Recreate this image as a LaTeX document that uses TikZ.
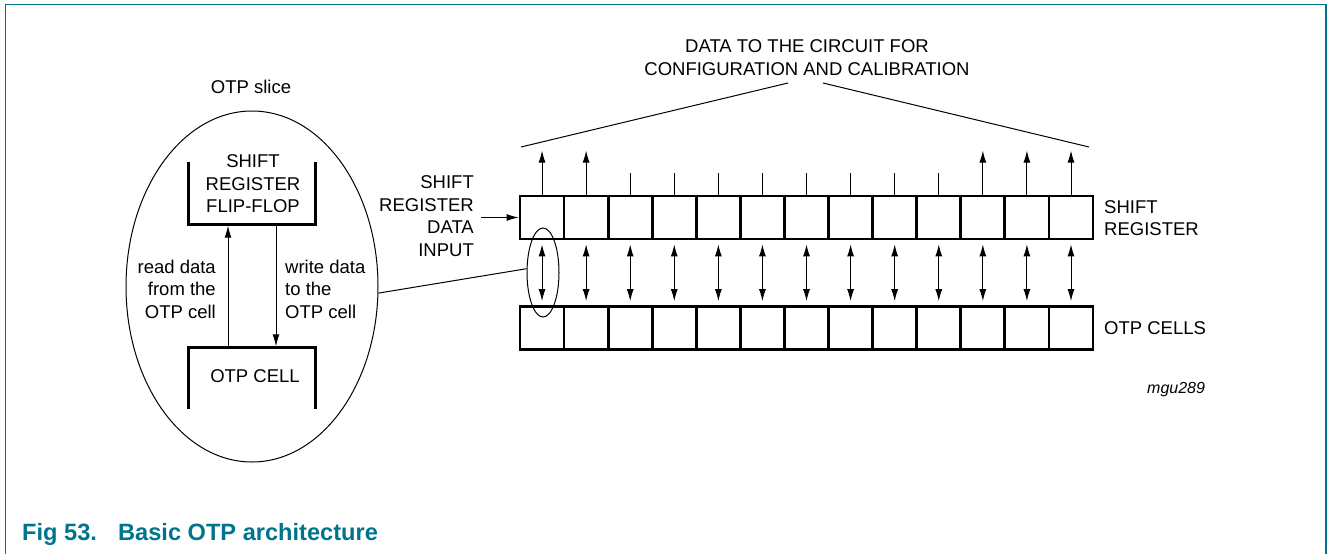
\documentclass[tikz,border=0pt]{standalone}
\usepackage{fontspec}
\setmainfont{Liberation Sans}
\usetikzlibrary{arrows.meta,shapes.geometric}
\definecolor{nxp}{RGB}{0,116,140}
\begin{document}
\begin{tikzpicture}[x=1pt,y=-1pt,
  lbl/.style={inner sep=0pt,font=\fontsize{18.5}{22.5}\selectfont},
  cellbox/.style={draw,line width=2.8pt,minimum width=44.1pt,minimum height=43pt,inner sep=0pt},
  thin/.style={line width=1pt},
  arr/.style={thin,-{Latex[length=12pt,width=7pt]}},
  dbl/.style={thin,{Latex[length=12pt,width=7pt]}-{Latex[length=12pt,width=7pt]}},
  bracket/.style={line width=2.8pt},
]
\useasboundingbox (0,0) rectangle (1328,554);
% frame
\draw[nxp,line width=1.5pt] (5.3,600) -- (5.3,4.7) -- (1326,4.7) -- (1326,600);

% title
\node[anchor=base west,inner sep=0pt,text=nxp,font=\bfseries\fontsize{23.6}{27}\selectfont] (fig) at (22,540) {Fig 53.};
\node[anchor=base west,inner sep=0pt,text=nxp,font=\bfseries\fontsize{23.6}{27}\selectfont] (figtitle) at (118,540) {Basic OTP architecture};

% left OTP slice
\node[lbl] (slicelbl) at (251,87) {OTP slice};
\node[draw,thin,ellipse,minimum width=252pt,minimum height=351pt,inner sep=0pt] (slice) at (252,286.5) {};

\node[minimum width=126pt,minimum height=62pt,inner sep=0pt] (ff) at (252,193) {};
\draw[bracket] (ff.north west) -- (ff.south west) -- (ff.south east) -- (ff.north east);
\node[lbl,align=center] (fftext) at (253,184) {SHIFT\\REGISTER\\FLIP-FLOP};

\node[minimum width=126pt,minimum height=61pt,inner sep=0pt] (cell) at (252,378.5) {};
\draw[bracket] (cell.south west) -- (cell.north west) -- (cell.north east) -- (cell.south east);
\node[lbl] (celltext) at (255,376) {OTP CELL};

\draw[arr] ([xshift=-24pt]cell.north) -- ([xshift=-24pt,yshift=-1.5pt]ff.south);
\draw[arr] ([xshift=24pt,yshift=-1.5pt]ff.south) -- ([xshift=24pt,yshift=1.5pt]cell.north);
\node[lbl,align=right,anchor=east] (readlbl) at (216,289) {read data\\from the\\OTP cell};
\node[lbl,align=left,anchor=west] (writelbl) at (285,289) {write data\\to the\\OTP cell};

% cells
\foreach \i in {1,...,13} {
  \node[cellbox] (s\i) at ({520+44.08*(\i-0.5)},217.5) {};
  \node[cellbox] (o\i) at ({520+44.08*(\i-0.5)},328) {};
}
\foreach \i in {1,...,13} {
  \draw[dbl,shorten <=4pt,shorten >=4pt] (s\i.south) -- (o\i.north);
}
\foreach \i in {1,2,11,12,13} {
  \coordinate (t\i) at ([yshift=44pt]s\i.north);
  \draw[arr] (s\i.north) -- (t\i);
}
\foreach \i in {3,...,10} {
  \coordinate (k\i) at ([yshift=22pt]s\i.north);
  \draw[thin] (s\i.north) -- (k\i);
}

% small ellipse and link
\node[draw,thin,ellipse,minimum width=32pt,minimum height=89pt,inner sep=0pt] (sel) at (543,272.5) {};
\draw[thin] (slice.-3) -- (sel.167);

% data input
\node[lbl,align=right,anchor=east] (inlbl) at (474,216) {SHIFT\\REGISTER\\DATA\\INPUT};
\coordinate (instart) at (481,217.5);
\draw[arr] (instart) -- (s1.west);

% right labels
\node[lbl,align=left,anchor=west] (srlbl) at (1104,218) {SHIFT\\REGISTER};
\node[lbl,anchor=west] (otplbl) at (1104,328) {OTP CELLS};
\node[inner sep=0pt,anchor=west,font=\itshape\fontsize{16}{19}\selectfont] (mgu) at (1147,390) {mgu289};

% top text
\node[lbl,align=center] (toplbl) at (807,57.5) {DATA TO THE CIRCUIT FOR\\CONFIGURATION AND CALIBRATION};
\coordinate (tl1) at (521,147);
\coordinate (tl2) at (788,83);
\coordinate (tr1) at (823,83);
\coordinate (tr2) at (1089,147);
\draw[thin] (tl1) -- (tl2);
\draw[thin] (tr1) -- (tr2);
\end{tikzpicture}
\end{document}
